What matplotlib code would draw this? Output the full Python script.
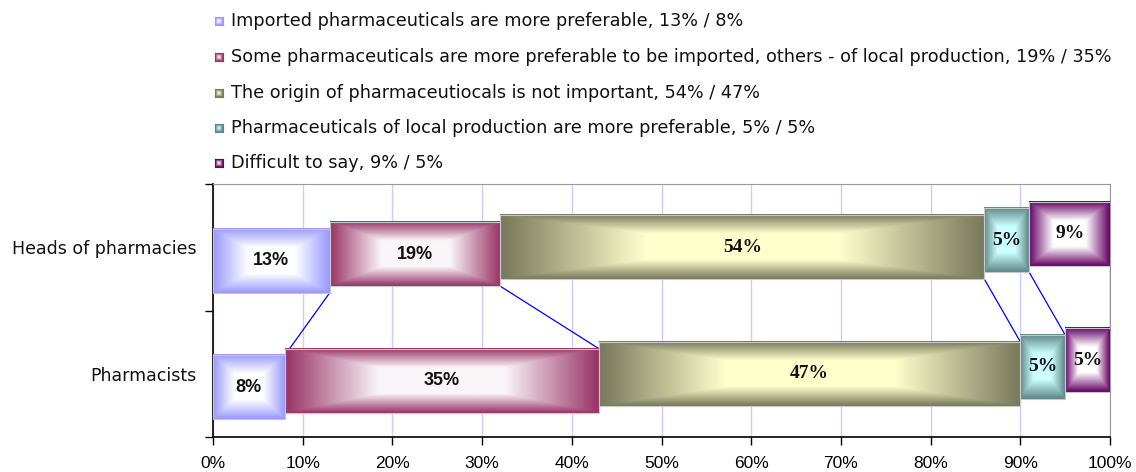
import numpy as np
import matplotlib
matplotlib.use("Agg")
import matplotlib.pyplot as plt
from matplotlib.patches import Rectangle

# Survey data: share of answers per group
groups = ["Heads of pharmacies", "Pharmacists"]
answers = [
    "Imported pharmaceuticals are more preferable",
    "Some pharmaceuticals are more preferable to be imported, others - of local production",
    "The origin of pharmaceutiocals is not important",
    "Pharmaceuticals of local production are more preferable",
    "Difficult to say",
]
heads = [13, 19, 54, 5, 9]
pharmacists = [8, 35, 47, 5, 5]
x_ticks = [0, 10, 20, 30, 40, 50, 60, 70, 80, 90, 100]

# edge colour / centre colour of each gradient fill
edge_colors = ["#9999FF", "#993366", "#78785C", "#5E8787", "#660066"]
center_colors = ["#FFFFFF", "#FAF6F8", "#FFFFCC", "#CCFFFF", "#FFFFFF"]
label_fonts = ["Liberation Sans", "Liberation Sans", "Liberation Serif",
               "Liberation Serif", "Liberation Serif"]
label_sizes = [13, 13, 14, 14, 14]

plt.rcParams["font.family"] = ["DejaVu Sans"]


def rect_gradient(edge, center, nx=240, ny=80, spread=0.6):
    # "from centre" fill: rectangular contours fading from centre to edge
    e = np.array(matplotlib.colors.to_rgb(edge))
    c = np.array(matplotlib.colors.to_rgb(center))
    u = np.abs(np.linspace(-1, 1, nx))[None, :]
    v = np.abs(np.linspace(-1, 1, ny))[:, None]
    t = np.maximum(u, v)
    f = np.clip((1 - t) / spread, 0, 1)[..., None]
    return e + (c - e) * f


fig = plt.figure(figsize=(11.36, 4.72), dpi=100)
ax = fig.add_axes([213 / 1136, 35 / 472, 897 / 1136, 253 / 472])

rows = [heads, pharmacists]
cat_y = [1.5, 0.5]
bar_h = 0.506
shift = 0.054

tops = {}
for r, (vals, yc) in enumerate(zip(rows, cat_y)):
    left = 0.0
    for i, v in enumerate(vals):
        w = v / 100
        y = yc + (i - 2) * shift
        img = rect_gradient(edge_colors[i], center_colors[i])
        ax.imshow(img, extent=[left, left + w, y - bar_h / 2, y + bar_h / 2],
                  aspect="auto", interpolation="bilinear", zorder=3)
        ax.add_patch(Rectangle((left, y - bar_h / 2), w, bar_h, fill=False,
                               edgecolor="#C8C8C8", lw=0.8, zorder=4))
        ax.text(left + w / 2, y, f"{v}%", ha="center", va="center",
                fontsize=label_sizes[i], fontweight="bold", family=label_fonts[i],
                color="#111111", zorder=5)
        tops[(r, i)] = (left + w, y - bar_h / 2, y + bar_h / 2)
        left += w

# series lines between the two bars
for i in range(len(answers)):
    xh, yh_bottom, _ = tops[(0, i)]
    xp, _, yp_top = tops[(1, i)]
    ax.plot([xh, xp], [yh_bottom, yp_top], color="#0000FF", lw=0.9, zorder=2)

ax.set_xlim(0, 1)
ax.set_ylim(0, 2)
ax.set_xticks([t / 100 for t in x_ticks])
ax.set_xticklabels([f"{t}%" for t in x_ticks],
                   family=["Liberation Sans Narrow", "Liberation Sans"], fontsize=12.5)
ax.set_yticks([0, 1, 2])
ax.set_yticklabels([])
ax.set_yticks(cat_y, minor=True)
ax.set_yticklabels(groups, minor=True, fontsize=12.5, color="#111111")
ax.tick_params(axis="y", which="minor", length=0, pad=12)
ax.tick_params(axis="both", which="major", direction="out", length=6,
               width=1, color="black")
ax.tick_params(axis="x", pad=8)
ax.xaxis.grid(True, color="#CCCCFF", lw=1)
ax.set_axisbelow(True)
for side in ["top", "right"]:
    ax.spines[side].set_color("#999999")
for side in ["left", "bottom"]:
    ax.spines[side].set_color("black")
    ax.spines[side].set_linewidth(1.2)

# legend rows above the plot
row_y = [21, 57, 93, 128, 163]
for i, name in enumerate(answers):
    yc = row_y[i]
    lax = fig.add_axes([215 / 1136, 1 - (yc + 4) / 472, 8 / 1136, 8 / 472])
    lax.imshow(rect_gradient(edge_colors[i], center_colors[i], 16, 16, 0.9),
               interpolation="bilinear", aspect="auto")
    lax.set_xticks([])
    lax.set_yticks([])
    for s in lax.spines.values():
        s.set_edgecolor(edge_colors[i])
        s.set_linewidth(0.8)
    fig.text(231 / 1136, 1 - yc / 472,
             f"{name}, {heads[i]}% / {pharmacists[i]}%",
             ha="left", va="center", fontsize=12.7, color="#111111")

fig.savefig("out.png", dpi=100)
